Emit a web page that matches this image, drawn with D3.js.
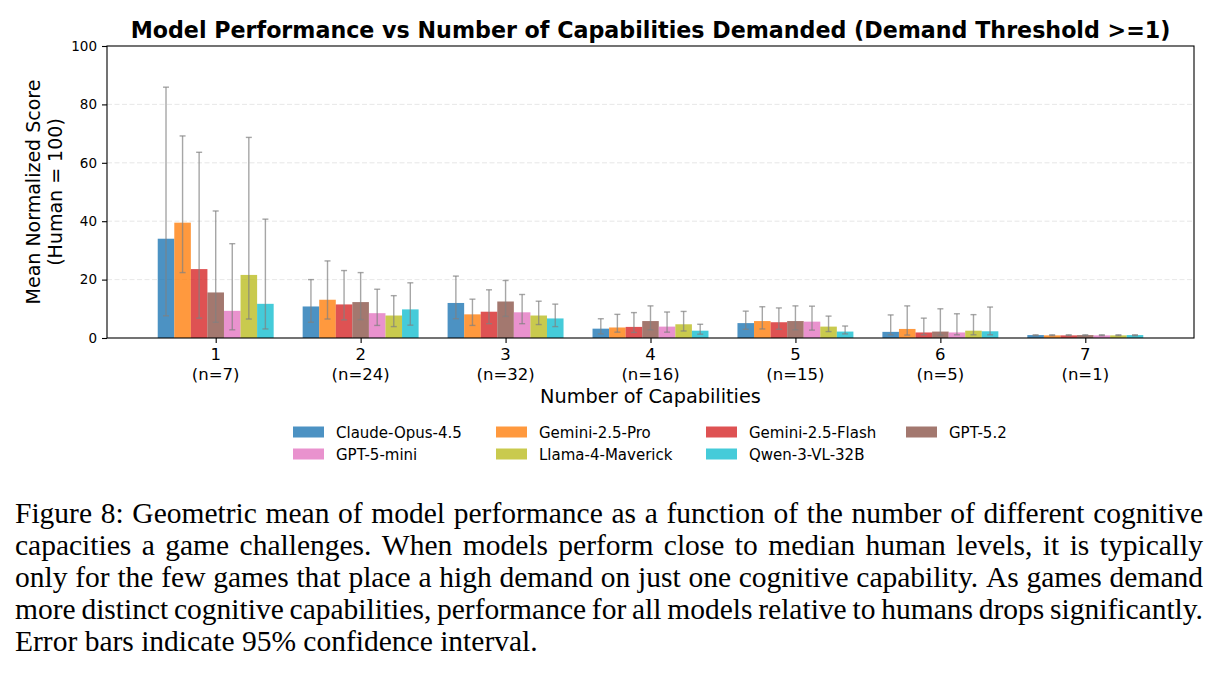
<!DOCTYPE html>
<head>
    <meta charset="utf-8">
    <title>Model Performance vs Number of Capabilities</title>
    <style>
        body { margin: 0; background: #fff; }
        svg text { font-family: "DejaVu Sans", sans-serif; fill: #000; }
    </style>
</head>
<body>

<svg width="1224" height="676"></svg>

<script src="https://d3js.org/d3.v7.min.js"></script>

<script>

    // number of capabilities demanded, and how many games fall in each bucket
    const capabilities = [1, 2, 3, 4, 5, 6, 7];
    const gameCounts = [7, 24, 32, 16, 15, 5, 1];

    const models = ["Claude-Opus-4.5", "Gemini-2.5-Pro", "Gemini-2.5-Flash", "GPT-5.2",
                    "GPT-5-mini", "Llama-4-Maverick", "Qwen-3-VL-32B"];
    const modelColors = ["#1f77b4", "#ff7f0e", "#d62728", "#8c564b", "#e377c2", "#bcbd22", "#17becf"];

    // one row per model, one column per capability count
    const meanScores = [
        [34.0, 10.8, 12.0, 3.2, 5.1, 2.1, 1.0],
        [39.5, 13.1,  8.1, 3.6, 5.8, 3.1, 0.9],
        [23.6, 11.5,  9.0, 3.8, 5.4, 1.9, 0.9],
        [15.6, 12.3, 12.5, 5.8, 5.8, 2.2, 1.0],
        [ 9.3,  8.5,  8.8, 3.9, 5.6, 1.9, 0.9],
        [21.6,  7.7,  7.7, 4.7, 3.9, 2.5, 0.9],
        [11.7,  9.8,  6.7, 2.5, 2.2, 2.3, 1.0]
    ];
    const ciLower = [
        [ 7.6, 5.4, 6.6, 1.4, 3.0, 1.1, 0.8],
        [22.4, 6.5, 4.3, 2.0, 3.1, 1.0, 0.8],
        [ 6.8, 6.2, 4.9, 1.9, 3.0, 1.1, 0.8],
        [ 5.4, 6.3, 7.4, 2.8, 2.8, 1.0, 0.8],
        [ 2.8, 4.3, 4.9, 2.0, 2.7, 1.1, 0.8],
        [ 6.5, 3.9, 4.6, 2.4, 2.2, 1.1, 0.8],
        [ 3.1, 4.4, 3.9, 1.3, 1.4, 1.1, 0.8]
    ];
    const ciUpper = [
        [85.9, 20.0, 21.2,  6.6,  9.2,  7.9, 1.1],
        [69.2, 26.4, 13.3,  8.1, 10.7, 11.0, 1.1],
        [63.6, 23.1, 16.5,  8.7, 10.3,  6.8, 1.1],
        [43.5, 22.4, 19.7, 11.0, 11.0, 10.0, 1.1],
        [32.3, 16.7, 14.9,  8.9, 10.9,  8.3, 1.1],
        [68.7, 14.5, 12.6,  9.1,  7.5,  8.0, 1.1],
        [40.7, 18.9, 11.6,  4.7,  4.1, 10.6, 1.1]
    ];

    const yTicks = [0, 20, 40, 60, 80, 100];

    const captionLines = [
        "Figure 8: Geometric mean of model performance as a function of the number of different cognitive",
        "capacities a game challenges. When models perform close to median human levels, it is typically",
        "only for the few games that place a high demand on just one cognitive capability. As games demand",
        "more distinct cognitive capabilities, performance for all models relative to humans drops significantly.",
        "Error bars indicate 95% confidence interval."
    ];

    const svg = d3.select("svg");
    const margin = { left: 107, top: 46, bottom: 338 };
    const plotRight = 1194;

    svg.append("rect").attr("width", 1224).attr("height", 676).attr("fill", "#fff");

    const x = d3.scaleLinear().domain([0.25, 7.75]).range([margin.left, plotRight]);
    const y = d3.scaleLinear().domain([0, 100]).range([margin.bottom, margin.top]);

    const barW = 0.8 / models.length;

    // Grid lines behind the bars
    svg.append("g")
        .selectAll("line")
        .data(yTicks.slice(1, -1))
        .enter().append("line")
            .attr("x1", margin.left).attr("x2", plotRight)
            .attr("y1", d => y(d)).attr("y2", d => y(d))
            .attr("stroke", "#b0b0b0")
            .attr("stroke-opacity", 0.3)
            .attr("stroke-dasharray", "5,2.5");

    // Bars, one group per model
    const bars = [];
    models.forEach((m, i) => {
        capabilities.forEach((c, j) => {
            bars.push({
                model: i, cx: c + (i - 3) * barW,
                mean: meanScores[i][j], lo: ciLower[i][j], hi: ciUpper[i][j]
            });
        });
    });

    svg.append("g")
        .selectAll("rect")
        .data(bars)
        .enter().append("rect")
            .attr("x", d => x(d.cx - barW / 2))
            .attr("width", d => x(d.cx + barW / 2) - x(d.cx - barW / 2))
            .attr("y", d => y(d.mean))
            .attr("height", d => y(0) - y(d.mean))
            .attr("fill", d => modelColors[d.model])
            .attr("fill-opacity", 0.8);

    // Error bars with small caps
    const err = svg.append("g")
        .attr("stroke", "#808080")
        .attr("stroke-opacity", 0.7)
        .attr("stroke-width", 1.4)
        .selectAll("g")
        .data(bars)
        .enter().append("g");

    err.append("line")
        .attr("x1", d => x(d.cx)).attr("x2", d => x(d.cx))
        .attr("y1", d => y(d.lo)).attr("y2", d => y(d.hi));

    err.selectAll("line.cap")
        .data(d => [{ cx: d.cx, v: d.lo }, { cx: d.cx, v: d.hi }])
        .enter().append("line")
            .attr("class", "cap")
            .attr("x1", d => x(d.cx) - 3).attr("x2", d => x(d.cx) + 3)
            .attr("y1", d => y(d.v)).attr("y2", d => y(d.v));

    // Axes frame
    svg.append("rect")
        .attr("x", margin.left).attr("y", margin.top)
        .attr("width", plotRight - margin.left).attr("height", margin.bottom - margin.top)
        .attr("fill", "none").attr("stroke", "#000").attr("stroke-width", 1.1);

    // Y axis
    const yAxis = svg.append("g")
        .attr("transform", "translate(" + margin.left + ",0)")
        .call(d3.axisLeft(y).tickValues(yTicks).tickSize(5).tickPadding(5));
    yAxis.select(".domain").remove();
    yAxis.selectAll("text")
        .style("font-family", "DejaVu Sans")
        .style("font-size", "13.5px")
        .attr("fill", "#000");
    yAxis.selectAll("line").attr("stroke", "#000").attr("stroke-width", 1.1);

    // X axis: two-line tick labels
    const xAxis = svg.append("g")
        .attr("transform", "translate(0," + margin.bottom + ")")
        .call(d3.axisBottom(x).tickValues(capabilities).tickSize(5).tickFormat(""));
    xAxis.select(".domain").remove();
    xAxis.selectAll("line").attr("stroke", "#000").attr("stroke-width", 1.1);

    const xLabels = svg.append("g")
        .selectAll("text")
        .data(capabilities)
        .enter().append("text")
            .attr("text-anchor", "middle")
            .style("font-size", "16.5px");
    xLabels.append("tspan")
        .attr("x", d => x(d)).attr("y", 360)
        .text(d => d);
    xLabels.append("tspan")
        .attr("x", d => x(d)).attr("y", 380)
        .text((d, i) => "(n=" + gameCounts[i] + ")");

    // Axis titles
    svg.append("text")
        .attr("x", (margin.left + plotRight) / 2).attr("y", 403)
        .attr("text-anchor", "middle")
        .style("font-size", "19.3px")
        .text("Number of Capabilities");

    const yTitle = svg.append("text")
        .attr("transform", "translate(0," + ((margin.top + margin.bottom) / 2) + ") rotate(-90)")
        .attr("text-anchor", "middle")
        .style("font-size", "19px");
    yTitle.append("tspan").attr("x", 0).attr("y", 40).text("Mean Normalized Score");
    yTitle.append("tspan").attr("x", 0).attr("y", 62).text("(Human = 100)");

    // Title
    svg.append("text")
        .attr("x", (margin.left + plotRight) / 2).attr("y", 38)
        .attr("text-anchor", "middle")
        .style("font-size", "22.2px")
        .style("font-weight", "bold")
        .text("Model Performance vs Number of Capabilities Demanded (Demand Threshold >=1)");

    // Legend: 4 columns, filled row by row
    const legendCols = [293, 496, 706, 906];
    const legend = svg.append("g")
        .selectAll("g")
        .data(models)
        .enter().append("g")
            .attr("transform", (d, i) => "translate(" + legendCols[i % 4] + "," + (432 + Math.floor(i / 4) * 22) + ")");
    legend.append("rect")
        .attr("x", 0).attr("y", -5.5)
        .attr("width", 31).attr("height", 11)
        .attr("fill", (d, i) => modelColors[i])
        .attr("fill-opacity", 0.8);
    legend.append("text")
        .attr("x", 43).attr("y", 5.5)
        .style("font-size", "15px")
        .text(d => d);

    // Caption, justified like the paper
    const capLeft = 15, capRight = 1203, capSize = 29.5;
    const caption = svg.append("g")
        .style("font-size", capSize + "px");

    captionLines.forEach((line, li) => {
        const words = line.split(" ");
        const baseY = 523 + li * 32;
        const nodes = words.map(w => caption.append("text")
            .style("font-family", "'Liberation Serif', serif")
            .attr("y", baseY).text(w));
        const widths = nodes.map(n => n.node().getComputedTextLength());
        const total = d3.sum(widths);
        const last = li === captionLines.length - 1;
        const gap = last ? capSize * 0.25 : (capRight - capLeft - total) / (words.length - 1);
        let cursor = capLeft;
        nodes.forEach((n, k) => {
            n.attr("x", cursor);
            cursor += widths[k] + gap;
        });
    });

</script>

</body>
